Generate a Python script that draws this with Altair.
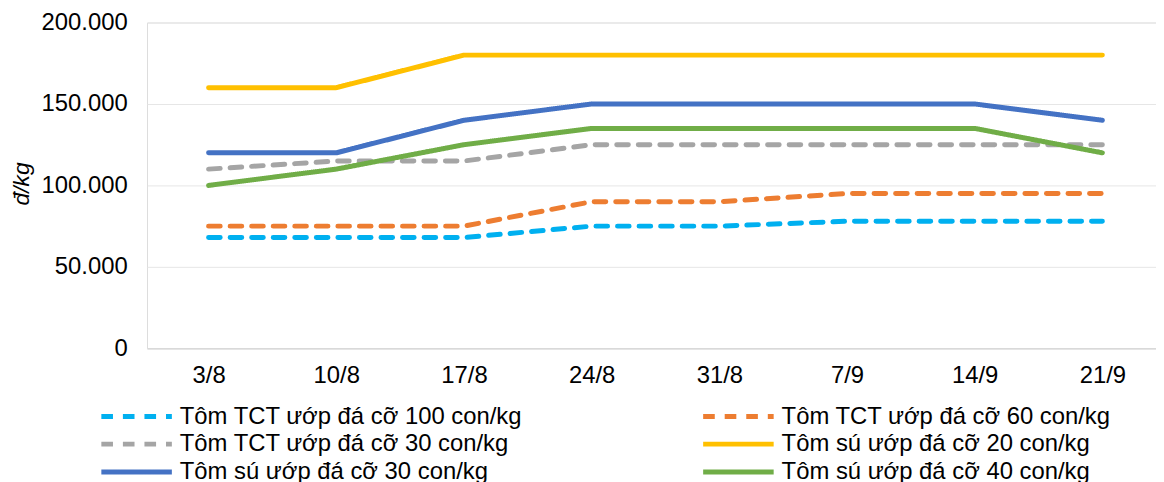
import json
import altair as alt
import pandas as pd

dates = ["3/8", "10/8", "17/8", "24/8", "31/8", "7/9", "14/9", "21/9"]
series = [
    "Tôm TCT ướp đá cỡ 100 con/kg",
    "Tôm TCT ướp đá cỡ 60 con/kg",
    "Tôm TCT ướp đá cỡ 30 con/kg",
    "Tôm sú ướp đá cỡ 20 con/kg",
    "Tôm sú ướp đá cỡ 30 con/kg",
    "Tôm sú ướp đá cỡ 40 con/kg",
]
tct100 = [68000, 68000, 68000, 75000, 75000, 78000, 78000, 78000]
tct60 = [75000, 75000, 75000, 90000, 90000, 95000, 95000, 95000]
tct30 = [110000, 115000, 115000, 125000, 125000, 125000, 125000, 125000]
su20 = [160000, 160000, 180000, 180000, 180000, 180000, 180000, 180000]
su30 = [120000, 120000, 140000, 150000, 150000, 150000, 150000, 140000]
su40 = [100000, 110000, 125000, 135000, 135000, 135000, 135000, 120000]
colors = ["#00B0F0", "#ED7D31", "#A5A5A5", "#FFC000", "#4472C4", "#70AD47"]
dashes = [[11.7, 10], [11.7, 10], [11.7, 10], [1, 0], [1, 0], [1, 0]]

rows = []
for name, vals in zip(series, [tct100, tct60, tct30, su20, su30, su40]):
    for i, v in enumerate(vals):
        rows.append({"idx": i, "date": dates[i], "series": name, "value": v})
df = pd.DataFrame(rows)

FONT = "Liberation Sans, Arial, sans-serif"
label_expr = json.dumps(dates) + "[datum.value]"

chart = (
    alt.Chart(df)
    .mark_line(strokeWidth=5, strokeCap="round", strokeJoin="round")
    .encode(
        x=alt.X(
            "idx:Q",
            scale=alt.Scale(domain=[-0.482, 7.42], nice=False, zero=False),
            axis=alt.Axis(
                title=None,
                values=list(range(len(dates))),
                labelExpr=label_expr,
                grid=False,
                ticks=False,
                domain=True,
                domainColor="#D9D9D9",
                domainWidth=1.5,
                labelFont=FONT,
                labelFontSize=24,
                labelColor="#000000",
                labelPadding=15,
            ),
        ),
        y=alt.Y(
            "value:Q",
            scale=alt.Scale(domain=[0, 200000], nice=False),
            axis=alt.Axis(
                title="đ/kg",
                values=[0, 50000, 100000, 150000, 200000],
                labelExpr="replace(format(datum.value, ','), ',', '.')",
                grid=True,
                gridColor="#E6E6E6",
                gridWidth=1,
                ticks=False,
                domain=False,
                labelFont=FONT,
                labelFontSize=24,
                labelColor="#000000",
                labelPadding=20,
                titleFont=FONT,
                titleFontSize=23,
                titleFontStyle="italic",
                titleFontWeight="normal",
                titleColor="#000000",
                titleX=-126,
                titleY=162,
                titleBaseline="middle",
            ),
        ),
        color=alt.Color(
            "series:N",
            sort=series,
            scale=alt.Scale(domain=series, range=colors),
            legend=alt.Legend(
                title=None,
                orient="none",
                legendX=-23,
                legendY=384,
                direction="horizontal",
                columns=2,
                columnPadding=172,
                rowPadding=3,
                padding=0,
                symbolType="M-3.55,0H3.55",
                symbolSize=400,
                symbolStrokeWidth=5,
                labelOffset=31,
                labelFont=FONT,
                labelFontSize=24,
                labelColor="#000000",
                labelLimit=600,
            ),
        ),
        strokeDash=alt.StrokeDash(
            "series:N",
            sort=series,
            scale=alt.Scale(domain=series, range=dashes),
            legend=None,
        ),
        order="idx:Q",
    )
    .properties(
        width=1016,
        height=328,
        autosize=alt.AutoSizeParams(type="none"),
        padding={"left": 140, "top": 13, "right": 0, "bottom": 133},
    )
    .configure_view(stroke=None)
    .configure(background="white")
)

chart.save("out.html", embed_options={"renderer": "svg", "actions": False})
